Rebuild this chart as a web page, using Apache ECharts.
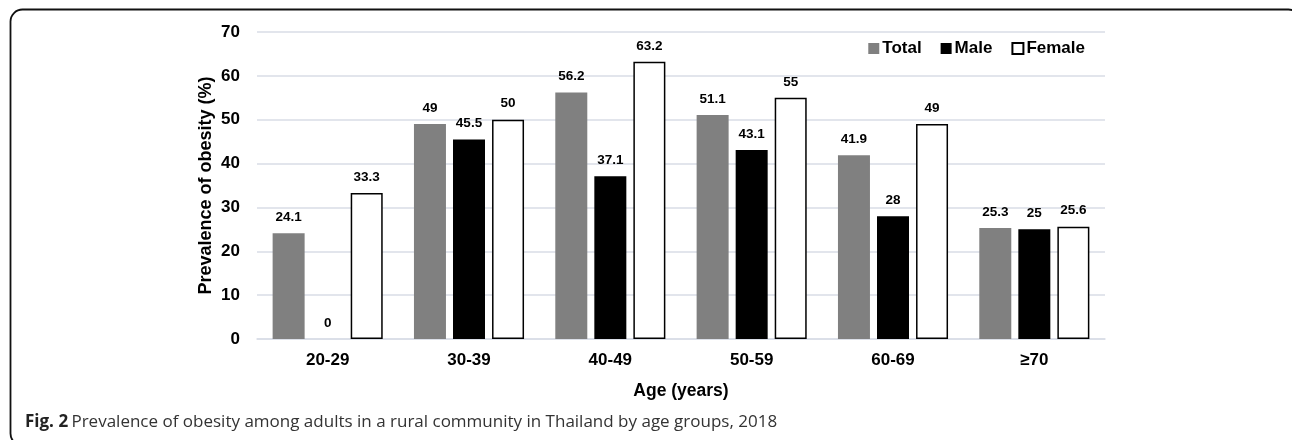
<!DOCTYPE html>
<html>
<head>
<meta charset="utf-8">
<script src="https://cdn.jsdelivr.net/npm/echarts@6/dist/echarts.min.js"></script>
<style>
  html, body { margin: 0; padding: 0; background: #fff; }
  #chart { width: 1292px; height: 440px; }
</style>
</head>
<body>
<div id="chart"></div>
<script>
// Age groups and obesity prevalence (%) by sex
const ageGroups = ['20-29', '30-39', '40-49', '50-59', '60-69', '≥70'];
const totalValues = [24.1, 49, 56.2, 51.1, 41.9, 25.3];
const maleValues = [0, 45.5, 37.1, 43.1, 28, 25];
const femaleValues = [33.3, 50, 63.2, 55, 49, 25.6];
const yTicks = { min: 0, max: 70, interval: 10 };

const chart = echarts.init(document.getElementById('chart'));

const FONT = 'Liberation Sans, Arial, sans-serif';

const labelStyle = {
  show: true,
  position: 'top',
  distance: 9,
  color: '#000',
  fontFamily: FONT,
  fontWeight: 'bold',
  fontSize: 13.5
};

const boldText = {
  fontFamily: FONT,
  fontWeight: 'bold',
  fontSize: 17,
  color: '#000'
};

chart.setOption({
  animation: false,
  backgroundColor: '#fff',
  graphic: [
    {
      type: 'rect',
      shape: { x: 10.5, y: 9.5, width: 1290, height: 436, r: 12 },
      style: { fill: 'none', stroke: '#111', lineWidth: 1.8 },
      silent: true
    },
    {
      type: 'text',
      left: 25,
      top: 414,
      style: {
        text: '{b|Fig. 2} {n|Prevalence of obesity among adults in a rural community in Thailand by age groups, 2018}',
        rich: {
          b: { fontFamily: 'Open Sans, sans-serif', fontWeight: 'bold', fontSize: 17, fill: '#222' },
          n: { fontFamily: 'Open Sans, sans-serif', fontSize: 17, fill: '#333' }
        }
      }
    }
  ],
  legend: {
    right: 202,
    top: 35,
    itemWidth: 11,
    itemHeight: 11,
    itemGap: 19,
    icon: 'rect',
    textStyle: Object.assign({}, boldText, { padding: [0, 0, 0, -2] }),
    data: ['Total', 'Male', 'Female']
  },
  grid: { left: 257, right: 187, top: 32, bottom: 101 },
  xAxis: {
    type: 'category',
    data: ageGroups,
    name: 'Age (years)',
    nameLocation: 'middle',
    nameGap: 43,
    nameTextStyle: Object.assign({}, boldText, { fontSize: 17.5 }),
    axisLine: { lineStyle: { color: '#d9dde6', width: 1.5 } },
    axisTick: { show: false },
    axisLabel: Object.assign({ margin: 13 }, boldText)
  },
  yAxis: {
    type: 'value',
    min: yTicks.min,
    max: yTicks.max,
    interval: yTicks.interval,
    name: 'Prevalence of obesity (%)',
    nameLocation: 'middle',
    nameGap: 42,
    nameMoveOverlap: false,
    nameTextStyle: Object.assign({}, boldText, { fontSize: 18 }),
    axisLine: { show: false },
    axisTick: { show: false },
    axisLabel: Object.assign({ margin: 17 }, boldText),
    splitLine: { lineStyle: { color: '#d9dde6', width: 1.5 } }
  },
  series: [
    {
      name: 'Total',
      type: 'bar',
      data: totalValues,
      barWidth: 32,
      barGap: '22%',
      itemStyle: { color: '#808080' },
      label: labelStyle
    },
    {
      name: 'Male',
      type: 'bar',
      data: maleValues,
      barWidth: 32,
      barGap: '22%',
      itemStyle: { color: '#000' },
      label: labelStyle
    },
    {
      name: 'Female',
      type: 'bar',
      data: femaleValues,
      barWidth: 32,
      barGap: '22%',
      itemStyle: { color: '#fff', borderColor: '#000', borderWidth: 1.5 },
      label: labelStyle
    }
  ]
});
</script>
</body>
</html>
